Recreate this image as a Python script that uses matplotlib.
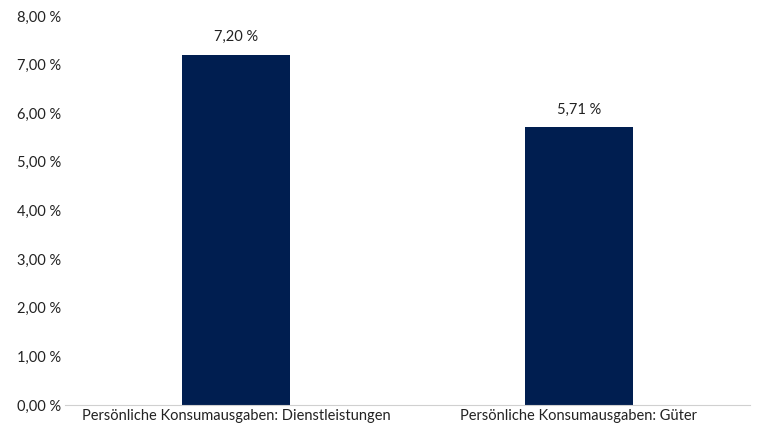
import matplotlib
matplotlib.use("Agg")
import matplotlib.pyplot as plt

categories = ["Persönliche Konsumausgaben: Dienstleistungen", "Persönliche Konsumausgaben: Güter"]
values = [7.20, 5.71]
yticks = [0, 1, 2, 3, 4, 5, 6, 7, 8]

plt.rcParams['font.family'] = ['Lato', 'DejaVu Sans']
fig = plt.figure(figsize=(7.76, 4.38), dpi=100)
ax = fig.add_axes([65/776, 1-405/438, 685/776, 389/438])
x = list(range(len(categories)))
ax.bar(x, values, width=0.315, color="#001E50")
for xi, v in zip(x, values):
    ax.text(xi, v + 0.22, f"{v:.2f} %".replace(".", ","), ha="center", va="bottom", fontsize=10.5, color="#222222")
ax.set_xlim(-0.5, 1.5)
ax.set_ylim(0, 8)
ax.set_yticks(yticks)
ax.set_yticklabels([f"{t:.2f} %".replace(".", ",") for t in yticks], fontsize=10.5, color="#222222")
ax.set_xticks(x)
ax.set_xticklabels(categories, fontsize=10.5, color="#222222")
for s in ["top", "right", "left"]:
    ax.spines[s].set_visible(False)
ax.spines["bottom"].set_color("#d0d0d0")
ax.tick_params(axis="both", length=0, pad=3)
fig.savefig("out.png", dpi=100)
